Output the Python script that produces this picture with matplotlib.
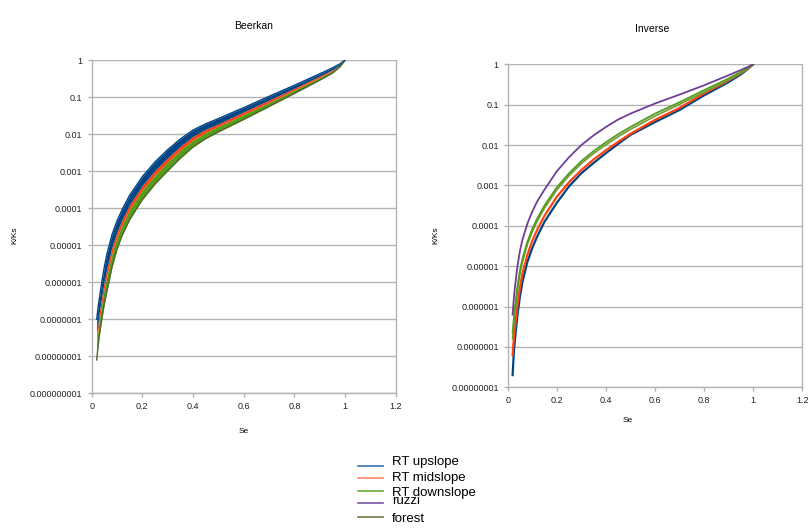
import matplotlib
matplotlib.use("Agg")
import matplotlib.pyplot as plt
import numpy as np
from matplotlib.lines import Line2D
from matplotlib.ticker import FixedLocator, FuncFormatter, NullLocator

plt.rcParams["font.family"] = ["Liberation Sans", "DejaVu Sans"]

# Se grid shared by all curves
se = [0.02, 0.025, 0.03, 0.04, 0.05, 0.06, 0.08, 0.10, 0.12, 0.15, 0.20, 0.25,
      0.30, 0.35, 0.40, 0.45, 0.50, 0.60, 0.70, 0.80, 0.90, 0.95, 0.98, 1.00]

# Beerkan: the many curves form stacked bands, given here by their edges (K/Ks)
beerkan_upslope_top = [1.0e-7, 2.0e-7, 3.5e-7, 1.0e-6, 2.6e-6, 5.6e-6, 1.9e-5, 4.5e-5,
                       9.1e-5, 2.24e-4, 7.1e-4, 1.78e-3, 3.8e-3, 7.4e-3, 1.29e-2, 1.9e-2,
                       2.63e-2, 5.2e-2, 0.105, 0.209, 0.427, 0.617, 0.794, 1.0]
beerkan_midslope_top = [3.8e-8, 7.9e-8, 1.48e-7, 4.2e-7, 1.1e-6, 2.34e-6, 8.9e-6, 2.3e-5,
                        4.9e-5, 1.26e-4, 4.1e-4, 1.05e-3, 2.3e-3, 4.7e-3, 8.7e-3, 1.35e-2,
                        1.9e-2, 4.0e-2, 8.3e-2, 0.174, 0.372, 0.55, 0.741, 1.0]
beerkan_downslope_top = [2.3e-8, 4.9e-8, 9.3e-8, 2.6e-7, 6.9e-7, 1.48e-6, 5.9e-6, 1.62e-5,
                         3.5e-5, 9.3e-5, 3.1e-4, 7.9e-4, 1.78e-3, 3.7e-3, 6.9e-3, 1.12e-2,
                         1.62e-2, 3.4e-2, 7.2e-2, 0.155, 0.339, 0.513, 0.708, 1.0]
beerkan_forest = [7.9e-9, 1.78e-8, 3.5e-8, 1.0e-7, 2.6e-7, 5.6e-7, 2.5e-6, 7.8e-6,
                  1.82e-5, 4.9e-5, 1.7e-4, 4.5e-4, 1.02e-3, 2.24e-3, 4.5e-3, 7.6e-3,
                  1.15e-2, 2.5e-2, 5.6e-2, 0.126, 0.288, 0.447, 0.661, 1.0]

# Inverse K/Ks
inverse_upslope = [2.0e-8, 7.1e-8, 1.58e-7, 6.3e-7, 1.78e-6, 4.0e-6, 1.26e-5, 2.8e-5,
                   5.4e-5, 1.26e-4, 3.7e-4, 9.5e-4, 2.0e-3, 3.6e-3, 6.3e-3, 1.07e-2,
                   1.78e-2, 3.7e-2, 7.4e-2, 0.17, 0.363, 0.562, 0.776, 1.0]
inverse_midslope = [6.3e-8, 1.58e-7, 3.2e-7, 1.12e-6, 3.0e-6, 6.6e-6, 1.9e-5, 4.2e-5,
                    7.9e-5, 1.78e-4, 5.2e-4, 1.2e-3, 2.4e-3, 4.4e-3, 7.4e-3, 1.2e-2,
                    1.9e-2, 4.2e-2, 8.3e-2, 0.19, 0.398, 0.603, 0.794, 1.0]
inverse_downslope = [2.24e-7, 5.0e-7, 1.0e-6, 3.2e-6, 7.9e-6, 1.51e-5, 4.0e-5, 8.3e-5,
                     1.51e-4, 3.2e-4, 8.9e-4, 2.0e-3, 4.0e-3, 7.1e-3, 1.17e-2, 1.86e-2,
                     2.8e-2, 6.0e-2, 0.115, 0.229, 0.447, 0.646, 0.832, 1.0]
inverse_ruzzi = [6.3e-7, 1.58e-6, 3.2e-6, 1.0e-5, 2.4e-5, 4.5e-5, 1.12e-4, 2.24e-4,
                 4.0e-4, 7.9e-4, 2.24e-3, 5.0e-3, 1.0e-2, 1.74e-2, 2.8e-2, 4.3e-2,
                 6.0e-2, 0.107, 0.178, 0.302, 0.537, 0.724, 0.871, 1.0]
inverse_forest = [1.58e-7, 3.8e-7, 7.9e-7, 2.5e-6, 6.5e-6, 1.26e-5, 3.4e-5, 7.1e-5,
                  1.29e-4, 2.75e-4, 7.8e-4, 1.74e-3, 3.5e-3, 6.2e-3, 1.02e-2, 1.62e-2,
                  2.45e-2, 5.2e-2, 0.102, 0.204, 0.407, 0.603, 0.794, 1.0]

series_names = ["RT upslope", "RT midslope", "RT downslope", "ruzzi", "forest"]
colors = ["#004586", "#ff420e", "#579d1c", "#6f3f98", "#4e6a2b"]
legend_colors = ["#3a6fb0", "#ff8a66", "#6aa832", "#7a55a8", "#6b7d4a"]

grid_col = "#b3b3b3"


def style_axes(ax, ymin):
    ax.set_yscale("log")
    ax.set_xlim(0, 1.2)
    ax.set_ylim(ymin, 1)
    ax.set_xticks(np.arange(0, 1.21, 0.2))
    ax.xaxis.set_major_formatter(FuncFormatter(lambda v, p: "%g" % round(v, 1)))
    decades = [10.0 ** k for k in range(int(round(np.log10(ymin))), 1)]
    ax.yaxis.set_major_locator(FixedLocator(decades))
    ax.yaxis.set_minor_locator(NullLocator())
    ax.yaxis.set_major_formatter(
        FuncFormatter(lambda v, p: np.format_float_positional(v, trim="-")))
    ax.grid(axis="y", color=grid_col, lw=1.0)
    ax.set_axisbelow(True)
    for s in ax.spines.values():
        s.set_color(grid_col)
        s.set_linewidth(1.0)
    ax.spines["top"].set_visible(False)
    ax.tick_params(colors=grid_col, labelcolor="#222222", labelsize=6.5,
                   length=3, width=1.0)


fig = plt.figure(figsize=(8.11, 5.32), dpi=100)

# Beerkan
ax1 = fig.add_axes([0.113, 0.261, 0.375, 0.626])
style_axes(ax1, 1e-9)
ax1.fill_between(se, beerkan_downslope_top, beerkan_forest, color=colors[2], lw=0)
ax1.fill_between(se, beerkan_midslope_top, beerkan_downslope_top, color=colors[1], lw=0)
ax1.fill_between(se, beerkan_upslope_top, beerkan_midslope_top, color=colors[0], lw=0)
ax1.plot(se, beerkan_forest, color=colors[4], lw=1.0)
ax1.plot(se, beerkan_upslope_top, color=colors[0], lw=1.0)
fig.text(0.313, 0.952, "Beerkan", ha="center", va="center", fontsize=7.5)
fig.text(0.018, 0.558, "K/Ks", rotation=90, ha="center", va="center", fontsize=6)
fig.text(0.30, 0.188, "Se", ha="center", va="center", fontsize=6)

# Inverse
ax2 = fig.add_axes([0.626, 0.272, 0.363, 0.607])
style_axes(ax2, 1e-8)
ax2.plot(se, inverse_upslope, color=colors[0], lw=1.6)
ax2.plot(se, inverse_midslope, color=colors[1], lw=1.6)
ax2.plot(se, inverse_forest, color="#6f9a3a", lw=1.2)
ax2.plot(se, inverse_downslope, color=colors[2], lw=1.3)
ax2.plot(se, inverse_ruzzi, color=colors[3], lw=1.3)
fig.text(0.804, 0.945, "Inverse", ha="center", va="center", fontsize=7.5)
fig.text(0.537, 0.558, "K/Ks", rotation=90, ha="center", va="center", fontsize=6)
fig.text(0.774, 0.21, "Se", ha="center", va="center", fontsize=6)

# legend, drawn by hand to keep the cramped spacing
line_y = [465.7, 478.3, 491.0, 503.3, 516.7]
text_y = [462.5, 478.5, 493.0, 501.5, 518.5]
for name, col, ly, ty in zip(series_names, legend_colors, line_y, text_y):
    fig.add_artist(Line2D([358 / 811, 383 / 811], [1 - ly / 532, 1 - ly / 532],
                          color=col, lw=1.2))
    fig.text(392 / 811, 1 - ty / 532, name, ha="left", va="center", fontsize=9.5)

fig.savefig("out.png", dpi=100)
